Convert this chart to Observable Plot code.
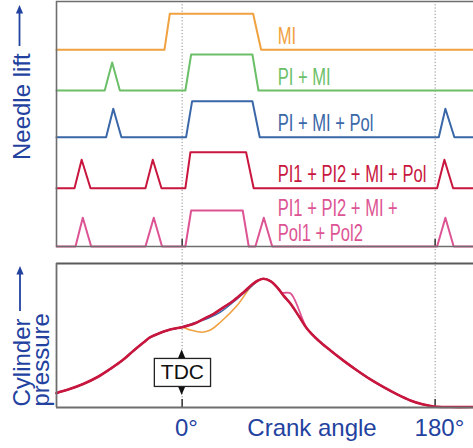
<!DOCTYPE html>
<html>
<head>
<meta charset="utf-8">
<script src="https://cdn.jsdelivr.net/npm/d3@7"></script>
<script src="https://cdn.jsdelivr.net/npm/@observablehq/plot@0.6"></script>
<style>
  html, body { margin: 0; padding: 0; background: #fff; }
  #chart { position: relative; width: 473px; height: 448px; overflow: hidden; background: #fff; }
  #chart > svg { position: absolute; left: 0; }
</style>
</head>
<body>
<div id="chart"></div>
<script>
// ---------------- data ----------------
const xDomain = [-89.4, 207.3];               // crank angle range shown (deg)
const tickValues = [0, 180];
const tickLabels = ["0°", "180°"];
const xTitle = "Crank angle";
const xTitleAt = 92.4;
const yTitleTop = "Needle lift";
const yTitleBottom = ["Cylinder", "pressure"];
const tdcLabel = "TDC";
const tdcPressure = 24;

const seriesNames = ["MI", "PI + MI", "PI + MI + Pol", "PI1 + PI2 + MI + Pol", "PI1 + PI2 + MI +\nPol1 + Pol2"];
const seriesColors = ["#f0a140", "#6cbf69", "#3a67a8", "#c8163e", "#dd5494"];

// needle lift traces: stacked baselines and lift (fraction of full main lift)
const liftOffsets = [196.7, 156, 109.3, 58.3, 0];
const liftAmplitude = 36;
const liftMI = [[-89.4,0],[-12.6,0],[-8.8,1],[50.5,1],[56.2,0],[207.3,0]];
const liftPIMI = [[-89.4,0],[-55.1,0],[-49.8,0.78],[-44.3,0],[2.3,0],[6.4,1],[50,1],[54.3,0],[207.3,0]];
const liftPIMIPol = [[-89.4,0],[-54.1,0],[-49,0.79],[-43.2,0],[2.8,0],[7.1,1],[50,1],[55.2,0],[182.6,0],[187.3,0.79],[193.7,0],[207.3,0]];
const liftPI1PI2MIPol = [[-89.4,0],[-76.6,0],[-71.5,0.79],[-65.2,0],[-26.1,0],[-20.9,0.79],[-14.7,0],[2.3,0],[5.9,1],[45.5,1],[50.9,0],[181.4,0],[186.6,0.79],[192.8,0],[207.3,0]];
const liftPI1PI2MIPol1Pol2 = [[-89.4,0],[-75.9,0],[-70.7,0.8],[-64.7,0],[-26.1,0],[-20.2,0.8],[-14.3,0],[2.3,0],[6.4,1],[43.1,1],[47.4,0],[52.1,0],[58.1,0.8],[64.1,0],[181.4,0],[187.3,0.8],[193.2,0],[207.3,0]];
const liftSeries = [liftMI, liftPIMI, liftPIMIPol, liftPI1PI2MIPol, liftPI1PI2MIPol1Pol2];

// cylinder pressure (arbitrary units 0-100)
const pressureCompression = [[-89.4,10.0],[-87.8,10.6],[-79.5,13.0],[-70,16.5],[-60.5,21.0],[-51,26.9],[-42.7,32.6],[-34.4,39.6],[-27.3,45.3],[-22.6,48.8],[-15.4,51.9],[-10.7,53.5],[-6,54.7],[0,55.8]];
const pressureCombustion = [[8.3,58.1],[15.4,61.6],[22.5,65.1],[29.6,69.7],[36.7,74.3],[43.8,80.1],[49.8,85.4]];
const pressureExpansion = [[54,88.2],[57.8,89.4],[62.8,87.8],[67.6,83.5],[72.3,77.5],[77,72.2],[83,63.5],[88.9,54.7],[97,46.5],[105.5,39.6],[115,32.4],[124.5,25.7],[134,19.5],[143.4,14.1],[153,9.1],[162.4,4.9],[171,2.2],[179,0.7],[190,0.3],[207.3,0.3]];
const pressureMICombustion = [[5.9,53.8],[14.2,52.3],[20.1,53.8],[27.2,59.2],[39.1,70.8],[48.6,83.5]];
const pressurePolCombustion = [[9.5,59.0],[20.1,62.7],[27.2,66.2],[39.1,75.5],[48.6,83.5]];
const pressureExpansionPost = [[54,88.2],[57.8,89.4],[62.8,87.8],[67.6,83.5],[71.1,79.7],[77,79.4],[88.9,54.7],[97,46.5],[105.5,39.6],[115,32.4],[124.5,25.7],[134,19.5],[143.4,14.1],[153,9.1],[162.4,4.9],[171,2.2],[179,0.7],[190,0.3],[207.3,0.3]];

const pressureSeries = [
  [...pressureCompression, ...pressureMICombustion, ...pressureExpansion],
  [...pressureCompression, ...pressureCombustion, ...pressureExpansion],
  [...pressureCompression, ...pressurePolCombustion, ...pressureExpansion],
  [...pressureCompression, ...pressureCombustion, ...pressureExpansion],
  [...pressureCompression, ...pressureCombustion, ...pressureExpansionPost]
];

// ---------------- build ----------------
const FONT = "Liberation Sans, Arial, Helvetica, sans-serif";
const BLUE = "#2342a0";
const FRAME = "#6e6e6e";
const CONDENSE = 0.72;

const liftRows = liftSeries.flatMap((pts, i) =>
  pts.map(([a, l]) => ({series: seriesNames[i], angle: a, lift: liftOffsets[i] + l * liftAmplitude})));
const liftLabelRows = seriesNames.map((s, i) => ({series: s, base: liftOffsets[i]}));

const W = 473;
const topH = 248;
const topY = [0, 245];

const topPlot = Plot.plot({
  width: W, height: topH,
  marginLeft: 56, marginRight: 0, marginTop: 1, marginBottom: 2,
  style: {fontFamily: FONT, background: "transparent"},
  x: {domain: xDomain, axis: null},
  y: {domain: topY, axis: null},
  color: {domain: seriesNames, range: seriesColors},
  marks: [
    Plot.ruleX(tickValues, {stroke: "#8a8a8a", strokeWidth: 1, strokeDasharray: "1.2,2"}),
    Plot.ruleX(tickValues, {y1: topY[0], y2: topY[0] + 7, stroke: "#333", strokeWidth: 1.5}),
    Plot.line(liftRows, {x: "angle", y: "lift", z: "series", stroke: "series", strokeWidth: 2, curve: "linear"}),
    Plot.text(liftLabelRows, {x: 68, y: "base", text: "series", fill: "series", textAnchor: "start",
      lineAnchor: "bottom", dy: -6, fontSize: 23, lineHeight: 1.06}),
    Plot.ruleY([topY[0]], {stroke: FRAME, strokeWidth: 1.6}),
    Plot.ruleY([topY[1]], {stroke: FRAME, strokeWidth: 1.5}),
    Plot.ruleX([xDomain[0]], {stroke: FRAME, strokeWidth: 1.6})
  ]
});

const pressureRows = pressureSeries.flatMap((pts, i) =>
  pts.map(([a, p]) => ({series: seriesNames[i], angle: a, pressure: p})));

const botH = 200;
const botMT = 15;
const botY = [0, 100];
const gapTop = botY[1] + botMT / ((botH - botMT - 41) / (botY[1] - botY[0]));
const drawOrder = [0, 1, 2, 4, 3];

const botPlot = Plot.plot({
  width: W, height: botH,
  marginLeft: 56, marginRight: 0, marginTop: botMT, marginBottom: 41,
  style: {fontFamily: FONT, background: "transparent", overflow: "visible"},
  x: {domain: xDomain, axis: null},
  y: {domain: botY, axis: null},
  color: {domain: seriesNames, range: seriesColors},
  marks: [
    Plot.ruleX(tickValues, {y1: botY[0], y2: gapTop, stroke: "#8a8a8a", strokeWidth: 1, strokeDasharray: "1.2,2"}),
    Plot.ruleX(tickValues, {y1: botY[0], y2: botY[0] + 5.5, stroke: "#333", strokeWidth: 1.5}),
    ...drawOrder.map(i => Plot.line(pressureRows.filter(d => d.series === seriesNames[i]), {
      x: "angle", y: "pressure", stroke: "series", curve: "catmull-rom",
      strokeWidth: i === 3 ? 2.6 : (i === 4 ? 1.8 : 1.6)
    })),
    Plot.ruleY([botY[0]], {stroke: FRAME, strokeWidth: 2}),
    Plot.ruleY([botY[1]], {stroke: "#5a5a5a", strokeWidth: 2}),
    Plot.ruleX([xDomain[0]], {stroke: FRAME, strokeWidth: 1.8}),
    Plot.text(tickLabels, {x: tickValues, frameAnchor: "bottom", dy: 28, dx: 4.3, lineAnchor: "bottom",
      textAnchor: "middle", fill: BLUE, fontSize: 24}),
    Plot.text([xTitle], {x: xTitleAt, frameAnchor: "bottom", dy: 28, lineAnchor: "bottom",
      textAnchor: "middle", fill: BLUE, fontSize: 24})
  ]
});

const chart = document.getElementById("chart");
topPlot.style.top = "0px";
botPlot.style.top = topH + "px";
chart.appendChild(topPlot);
chart.appendChild(botPlot);

// condensed lettering for the lift labels (the only texts of the top panel)
topPlot.querySelectorAll("text").forEach(el => {
  const t = el.getAttribute("transform");
  const x = +(el.getAttribute("x") || 0), y = +(el.getAttribute("y") || 0);
  el.removeAttribute("x"); el.removeAttribute("y");
  el.setAttribute("transform", `${t ? t + " " : ""}translate(${x},${y}) scale(${CONDENSE},1)`);
});

// ---------------- annotations overlay ----------------
const xs = botPlot.scale("x");
const ys = botPlot.scale("y");
const x0 = xs.apply(0);
const yTdc = topH + ys.apply(tdcPressure);

const ov = d3.select(chart).append("svg")
  .attr("width", W).attr("height", 448)
  .style("top", "0px").style("pointer-events", "none")
  .style("font-family", FONT);

function vArrow(x, yFrom, yTo) {
  ov.append("line").attr("x1", x).attr("x2", x).attr("y1", yFrom).attr("y2", yTo + 7)
    .attr("stroke", BLUE).attr("stroke-width", 1.8);
  ov.append("path").attr("d", `M${x},${yTo} L${x - 3.6},${yTo + 8.5} L${x + 3.6},${yTo + 8.5} Z`).attr("fill", BLUE);
}

ov.append("text").attr("transform", "translate(29.5,160) rotate(-90)")
  .attr("font-size", 24).attr("fill", BLUE).text(yTitleTop);
vArrow(19.5, 46, 5);

ov.append("text").attr("transform", "translate(29.5,406.5) rotate(-90)")
  .attr("font-size", 24).attr("fill", BLUE).text(yTitleBottom[0]);
ov.append("text").attr("transform", "translate(49,406.5) rotate(-90)")
  .attr("font-size", 24).attr("fill", BLUE).text(yTitleBottom[1]);
vArrow(20, 311, 266);

// TDC marker
ov.append("path").attr("d", `M${x0},${yTdc - 23} L${x0 - 3.8},${yTdc - 14} L${x0 + 3.8},${yTdc - 14} Z`).attr("fill", "#111");
ov.append("path").attr("d", `M${x0},${yTdc + 22.5} L${x0 - 3.8},${yTdc + 13.5} L${x0 + 3.8},${yTdc + 13.5} Z`).attr("fill", "#111");
ov.append("rect").attr("x", x0 - 27.3).attr("y", yTdc - 14).attr("width", 56.2).attr("height", 28)
  .attr("fill", "#fff").attr("stroke", "#222").attr("stroke-width", 1.3);
ov.append("text").attr("x", x0 + 0.8).attr("y", yTdc + 6.5).attr("text-anchor", "middle")
  .attr("font-size", 21).attr("fill", "#111").text(tdcLabel);
</script>
</body>
</html>
